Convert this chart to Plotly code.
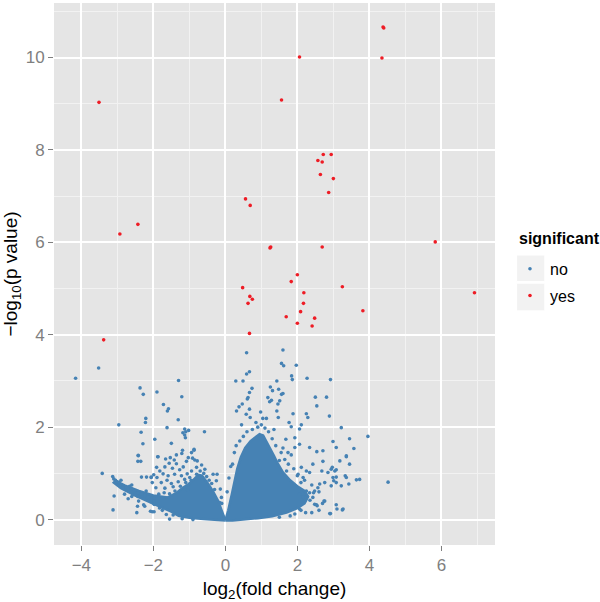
import plotly.graph_objects as go

# ---------------- data ----------------
# significant genes (red)
red_x = [-3.51, -2.93, -2.43, -3.38, 0.48, 0.56, 0.69, 0.63, 0.67, 0.68, 0.75,
         1.24, 1.26, 1.56, 1.69, 1.83, 2.00, 2.00, 2.06, 2.09, 2.17, 2.18, 2.41, 2.48,
         2.57, 2.64, 2.69, 2.72, 2.94, 2.87, 3.00, 2.69, 3.25, 3.82,
         4.35, 4.38, 4.40, 5.83, 6.92]
red_y = [9.03, 6.18, 6.39, 3.89, 5.02, 6.94, 6.80, 4.68, 4.03, 4.83, 4.77,
         5.88, 5.90, 9.08, 4.39, 5.15, 5.30, 4.25, 10.01, 4.50, 4.68, 4.91, 4.19, 4.36,
         7.77, 7.47, 7.74, 7.90, 7.90, 7.08, 7.38, 5.90, 5.04, 4.52,
         9.99, 10.66, 10.64, 6.01, 4.91]

# non-significant genes (blue), individually visible points
blue_pts = [
    # far left, sparse
    (-4.16, 3.06), (-3.52, 3.28), (-2.37, 2.85), (-2.28, 2.71), (-2.96, 2.05),
    (-2.21, 2.19), (-2.22, 2.10), (-2.34, 1.89), (-2.29, 1.64), (-2.42, 1.39),
    (-2.43, 1.26), (-2.35, 1.26), (-3.42, 1.00), (-2.33, 0.92), (-2.19, 0.92),
    (-2.06, 0.92), (-3.13, 0.93), (-3.10, 0.88), (-3.05, 0.85), (-3.00, 0.82),
    (-2.95, 0.80), (-2.84, 0.69), (-2.75, 0.70), (-2.66, 0.72), (-2.60, 0.66),
    (-2.52, 0.63), (-2.43, 0.58), (-2.33, 0.55), (-2.24, 0.52), (-2.15, 0.48),
    (-2.06, 0.44), (-3.09, 0.51), (-3.12, 0.21), (-2.43, 0.50), (-2.41, 0.40),
    (-2.44, 0.29), (-2.46, 0.15), (-2.08, 0.18), (-1.98, 0.17), (-1.98, 0.40),
    (-1.98, 0.33), (-2.03, 0.17), (-1.55, 0.01), (-0.23, 0.98), (-0.16, 0.37),
    (-2.27, 0.32), (-2.24, 0.29), (-1.83, 0.25), (-1.64, 0.11), (-2.42, 1.38),
    (-1.87, 1.36), (-2.06, 0.91), (-2.80, 0.55), (-2.60, 0.50), (-2.70, 0.45),
    # left, above the dense core
    (-1.30, 3.01), (-1.90, 2.76), (-1.21, 2.66), (-1.72, 2.49), (-1.58, 2.40),
    (-1.61, 2.35), (-1.31, 2.16), (-1.13, 1.96), (-1.10, 1.90), (-1.18, 1.88),
    (-1.02, 1.93), (-1.13, 1.83), (-0.58, 1.90), (-1.62, 1.99), (-1.96, 1.74),
    (-1.50, 1.65), (-1.11, 1.77), (-1.19, 1.50), (-0.87, 1.52), (-1.88, 1.36),
    (-1.66, 1.31), (-1.53, 1.34), (-1.42, 1.29), (-1.56, 1.22), (-1.36, 1.21),
    (-1.68, 1.14), (-1.47, 1.11), (-1.27, 1.08), (-1.17, 1.14), (-1.08, 1.26),
    (-1.03, 1.34), (-0.91, 1.33), (-0.85, 1.29), (-0.78, 1.27), (-0.94, 1.45),
    (-0.87, 1.50), (-1.21, 1.43), (-1.36, 1.40), (-1.91, 1.13), (-1.82, 1.05),
    (-1.99, 0.97), (-1.73, 0.99), (-1.59, 0.95), (-1.41, 0.98), (-1.22, 0.95),
    (-1.06, 0.99), (-0.94, 1.05), (-0.80, 1.13), (-0.66, 1.18), (-0.57, 1.09),
    (-1.90, 0.91), (-1.78, 0.80), (-1.62, 0.85), (-1.50, 0.78), (-1.31, 0.82),
    (-1.13, 0.87), (-0.99, 0.91), (-2.03, 0.80), (-1.93, 0.69), (-1.68, 0.68),
    (-1.45, 0.71), (-0.34, 0.98), (-0.25, 0.84), (-0.14, 0.66), (-0.11, 0.48),
    # left, around the dense core edge
    (-0.10, 0.35), (-0.30, 0.65), (-0.45, 0.85), (-0.60, 1.00), (-0.70, 1.05),
    (-0.80, 0.98), (-0.95, 0.85), (-1.10, 0.80), (-1.25, 0.72), (-1.40, 0.62),
    (-1.70, 0.58), (-2.20, 0.62), (-2.60, 0.75), (-2.90, 0.85), (-1.20, 0.02),
    (-0.90, 0.00), (-1.45, 0.10), (-1.75, 0.20), (-0.52, 0.93), (-0.38, 0.78),
    (-1.05, 0.64), (-1.55, 0.56), (-1.85, 0.55),
    # right, sparse
    (0.59, 3.61), (1.60, 3.67), (1.56, 3.38), (1.62, 3.33), (1.97, 3.34),
    (0.67, 3.20), (0.59, 3.15), (0.29, 3.00), (0.49, 3.00), (1.43, 3.00),
    (1.84, 3.11), (1.86, 3.03), (2.27, 3.06), (2.92, 3.03), (0.74, 2.84),
    (0.67, 2.75), (0.63, 2.64), (0.61, 2.61), (1.25, 2.87), (1.31, 2.79),
    (1.48, 2.82), (1.56, 2.71), (1.60, 2.73), (1.18, 2.64), (1.23, 2.55),
    (1.28, 2.58), (1.51, 2.57), (1.46, 2.50), (2.50, 2.65), (2.81, 2.65),
    (2.54, 2.46), (2.89, 2.24), (0.47, 2.50), (0.38, 2.44), (0.31, 2.35),
    (0.67, 2.39), (0.58, 2.28), (0.69, 2.21), (0.98, 2.33), (1.04, 2.19),
    (1.14, 2.19), (1.43, 2.35), (1.47, 2.21), (1.88, 2.29), (1.77, 2.10),
    (2.25, 2.29), (2.29, 2.21), (1.83, 2.01), (2.11, 2.05), (2.06, 1.96),
    (3.22, 1.99), (3.96, 1.80), (3.45, 1.75), (3.57, 1.54), (2.99, 1.69),
    (3.08, 1.56), (2.34, 1.56), (2.54, 1.47), (2.71, 1.49), (1.93, 1.77),
    (1.93, 1.56), (2.06, 1.63), (1.68, 1.74), (1.74, 1.45), (1.83, 1.40),
    (3.36, 1.36), (3.45, 1.20), (3.18, 1.27), (2.97, 1.13), (3.08, 1.08),
    (3.04, 1.05), (2.71, 1.26), (2.68, 1.05), (2.43, 1.20), (2.34, 1.02),
    (2.25, 1.05), (2.11, 1.13), (2.02, 0.98), (2.16, 0.91), (4.52, 0.81),
    (3.64, 0.86), (3.43, 0.77), (3.33, 0.95), (3.08, 0.92), (3.01, 0.84),
    (2.94, 0.73), (2.76, 0.80), (2.62, 0.77), (2.57, 0.69), (2.48, 0.62),
    (2.43, 0.48), (2.34, 0.58), (2.25, 0.62), (2.16, 0.48), (2.06, 0.55),
    (2.48, 0.33), (2.76, 0.40), (3.08, 0.32), (3.10, 0.23), (3.25, 0.21),
    (2.90, 0.13), (2.23, 0.15), (1.93, 0.12), (2.06, 0.23), (3.36, 1.38),
    (3.73, 0.87), (3.36, 0.91), (2.94, 1.09), (2.85, 1.02), (2.99, 0.91),
    (3.08, 0.80), (3.22, 0.73), (3.27, 0.23), (2.92, 0.13), (2.74, 0.40),
    (2.53, 0.32),
    # right, just around the dense core
    (0.20, 1.20), (0.25, 1.45), (0.30, 1.60), (0.40, 1.70), (0.50, 1.80),
    (0.60, 1.90), (0.75, 1.95), (0.90, 2.00), (1.10, 1.98), (1.20, 1.90),
    (1.30, 1.75), (1.40, 1.60), (1.55, 1.45), (1.65, 1.30), (1.75, 1.20),
    (1.90, 1.10), (2.00, 0.95), (2.20, 0.85), (2.40, 0.75), (2.60, 0.60),
    (2.55, 0.30), (2.70, 0.35), (2.60, 0.20), (2.40, 0.15), (0.05, 0.60),
    (0.10, 0.90), (0.15, 1.15), (0.45, 2.05), (0.85, 2.10), (1.00, 2.05),
    (1.35, 1.95), (1.60, 1.55), (2.10, 0.20), (1.80, 0.08), (1.50, 0.05),
    (2.35, 0.42), (1.70, 1.05), (1.50, 1.28), (2.10, 0.80), (2.45, 0.58),
]
blue_x = [p[0] for p in blue_pts]
blue_y = [p[1] for p in blue_pts]

# outlines of the solid (over-plotted) blue masses
core_left_x = [0.0, -0.08, -0.20, -0.35, -0.50, -0.65, -0.75, -0.90, -1.05, -1.20,
               -1.35, -1.60, -2.00, -2.40, -2.80, -3.05, -3.10, -2.90, -2.50, -2.10,
               -1.80, -1.50, -1.30, -1.00, -0.60, -0.30, 0.0]
core_left_y = [-0.02, 0.15, 0.40, 0.62, 0.80, 0.95, 0.97, 0.85, 0.75, 0.68,
               0.58, 0.48, 0.52, 0.62, 0.74, 0.84, 0.80, 0.68, 0.52, 0.38,
               0.28, 0.17, 0.08, 0.04, 0.01, -0.01, -0.02]
core_right_x = [0.0, 0.08, 0.18, 0.26, 0.33, 0.43, 0.55, 0.70, 0.85, 0.95, 1.05,
                1.15, 1.25, 1.35, 1.45, 1.60, 1.80, 2.00, 2.20, 2.30, 2.20, 2.00,
                1.70, 1.30, 0.90, 0.50, 0.20, 0.0]
core_right_y = [-0.02, 0.20, 0.55, 0.85, 1.10, 1.35, 1.55, 1.70, 1.80, 1.85, 1.82,
                1.68, 1.52, 1.38, 1.22, 1.02, 0.85, 0.72, 0.62, 0.50, 0.35, 0.25,
                0.15, 0.07, 0.03, 0.00, -0.02, -0.02]

x_ticks = [-4, -2, 0, 2, 4, 6]
y_ticks = [0, 2, 4, 6, 8, 10]
legend_labels = ["no", "yes"]

BLUE = "#4682B4"
RED = "#EE1C25"
FONT = "Liberation Sans, Arial, sans-serif"

fig = go.Figure()
for cx, cy in ((core_left_x, core_left_y), (core_right_x, core_right_y)):
    fig.add_trace(go.Scatter(x=cx, y=cy, mode="lines", fill="toself",
                             fillcolor=BLUE, line=dict(color=BLUE, width=2.5),
                             showlegend=False, hoverinfo="skip"))
fig.add_trace(go.Scatter(x=blue_x, y=blue_y, mode="markers", name=legend_labels[0],
                         legendgroup="no",
                         marker=dict(color=BLUE, size=3.6, line=dict(width=0))))
fig.add_trace(go.Scatter(x=red_x, y=red_y, mode="markers", name=legend_labels[1],
                         legendgroup="yes",
                         marker=dict(color=RED, size=3.6, line=dict(width=0))))

axis_common = dict(
    showgrid=True, gridcolor="white", gridwidth=1.6, zeroline=False,
    ticks="outside", ticklen=5, tickwidth=1.2, tickcolor="#7F7F7F",
    tickfont=dict(family=FONT, size=17, color="#7F7F7F"),
    showline=False,
    minor=dict(dtick=1, showgrid=True, gridcolor="#F2F2F2", gridwidth=0.8),
)

# legend key backgrounds (grey squares, as in ggplot2)
key_shapes = []
for y0, y1 in ((0.535, 0.486), (0.483, 0.432)):
    key_shapes.append(dict(type="rect", xref="paper", yref="paper",
                           x0=1.049, x1=1.113, y0=y1, y1=y0,
                           fillcolor="#F2F2F2", line=dict(color="white", width=1),
                           layer="below"))

fig.update_layout(
    width=600, height=602,
    margin=dict(l=54, r=105, t=3, b=57),
    paper_bgcolor="white", plot_bgcolor="#E5E5E5",
    font=dict(family=FONT, color="black"),
    xaxis=dict(range=[-4.76, 7.49], tickvals=x_ticks, tick0=0, dtick=2,
               title=dict(text="log<sub>2</sub>(fold change)",
                          font=dict(family=FONT, size=19, color="black"), standoff=10),
               **axis_common),
    yaxis=dict(range=[-0.55, 11.18], tickvals=y_ticks, tick0=0, dtick=2,
               title=dict(text="\u2212log<sub>10</sub>(p value)",
                          font=dict(family=FONT, size=19, color="black"), standoff=6),
               **axis_common),
    legend=dict(x=1.034, y=0.541, xanchor="left", yanchor="top",
                font=dict(family=FONT, size=16, color="black"),
                bgcolor="rgba(0,0,0,0)", tracegroupgap=3),
    shapes=key_shapes,
    annotations=[dict(text="<b>significant</b>", xref="paper", yref="paper",
                      x=1.050, y=0.5646, xanchor="left", yanchor="middle",
                      showarrow=False, font=dict(family=FONT, size=16, color="black"))],
)

fig.write_html("out.html", config={"displayModeBar": False},
               post_script="document.body.style.margin='0px';")
